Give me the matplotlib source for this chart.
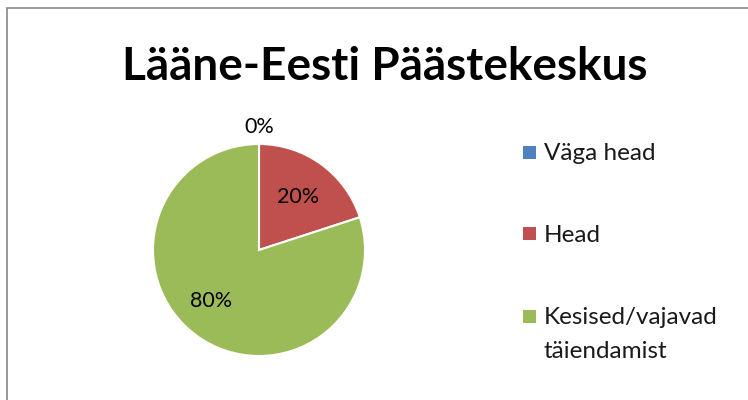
import matplotlib
matplotlib.use("Agg")
import matplotlib.pyplot as plt
from matplotlib.patches import Rectangle

title = "Lääne-Eesti Päästekeskus"
categories = ["Väga head", "Head", "Kesised/vajavad\ntäiendamist"]
values = [0, 20, 80]
colors = ["#4F81BD", "#C0504D", "#9BBB59"]

plt.rcParams['font.family'] = ['Lato', 'DejaVu Sans']

W, H = 748, 400
fig = plt.figure(figsize=(W/100, H/100), dpi=100)
fig.patch.set_facecolor("white")

# chart border
fig.add_artist(Rectangle((7/W, -0.1), 1.1, 1 - 8/H + 0.1, transform=fig.transFigure,
                         fill=False, edgecolor="#868686", linewidth=1.2))

fig.text(385/W, 1 - 67/H, title, ha="center", va="center",
         fontsize=33, fontweight="bold", color="black")

r_px = 106
cx, cy = 259, 250
ax = fig.add_axes([(cx - r_px)/W, (H - cy - r_px)/H, 2*r_px/W, 2*r_px/H])
wedges, texts, autotexts = ax.pie(values, colors=colors, startangle=90, counterclock=False,
                                  autopct=lambda p: f"{p:.0f}%", pctdistance=0.62,
                                  wedgeprops=dict(edgecolor="white", linewidth=1.5),
                                  textprops=dict(fontsize=15.5, color="black"))
ax.set_xlim(-1, 1)
ax.set_ylim(-1, 1)
# zero slice label sits outside at top
autotexts[0].set_position((0, 1.16))
x, y = autotexts[2].get_position()
autotexts[2].set_position((x * 1.25, y * 0.96))

# legend (drawn manually for exact spacing)
leg_y = [152, 234, 316]
sq = 13
for cat, col, yy in zip(categories, colors, leg_y):
    fig.add_artist(Rectangle((523/W, 1 - (yy + sq/2)/H), sq/W, sq/H,
                             transform=fig.transFigure, facecolor=col, edgecolor="none"))
    fig.text(544/W, 1 - (yy - 9)/H, cat, ha="left", va="top", fontsize=17.5,
             color="#1a1a1a", linespacing=1.75)

fig.savefig("out.png", dpi=100)
